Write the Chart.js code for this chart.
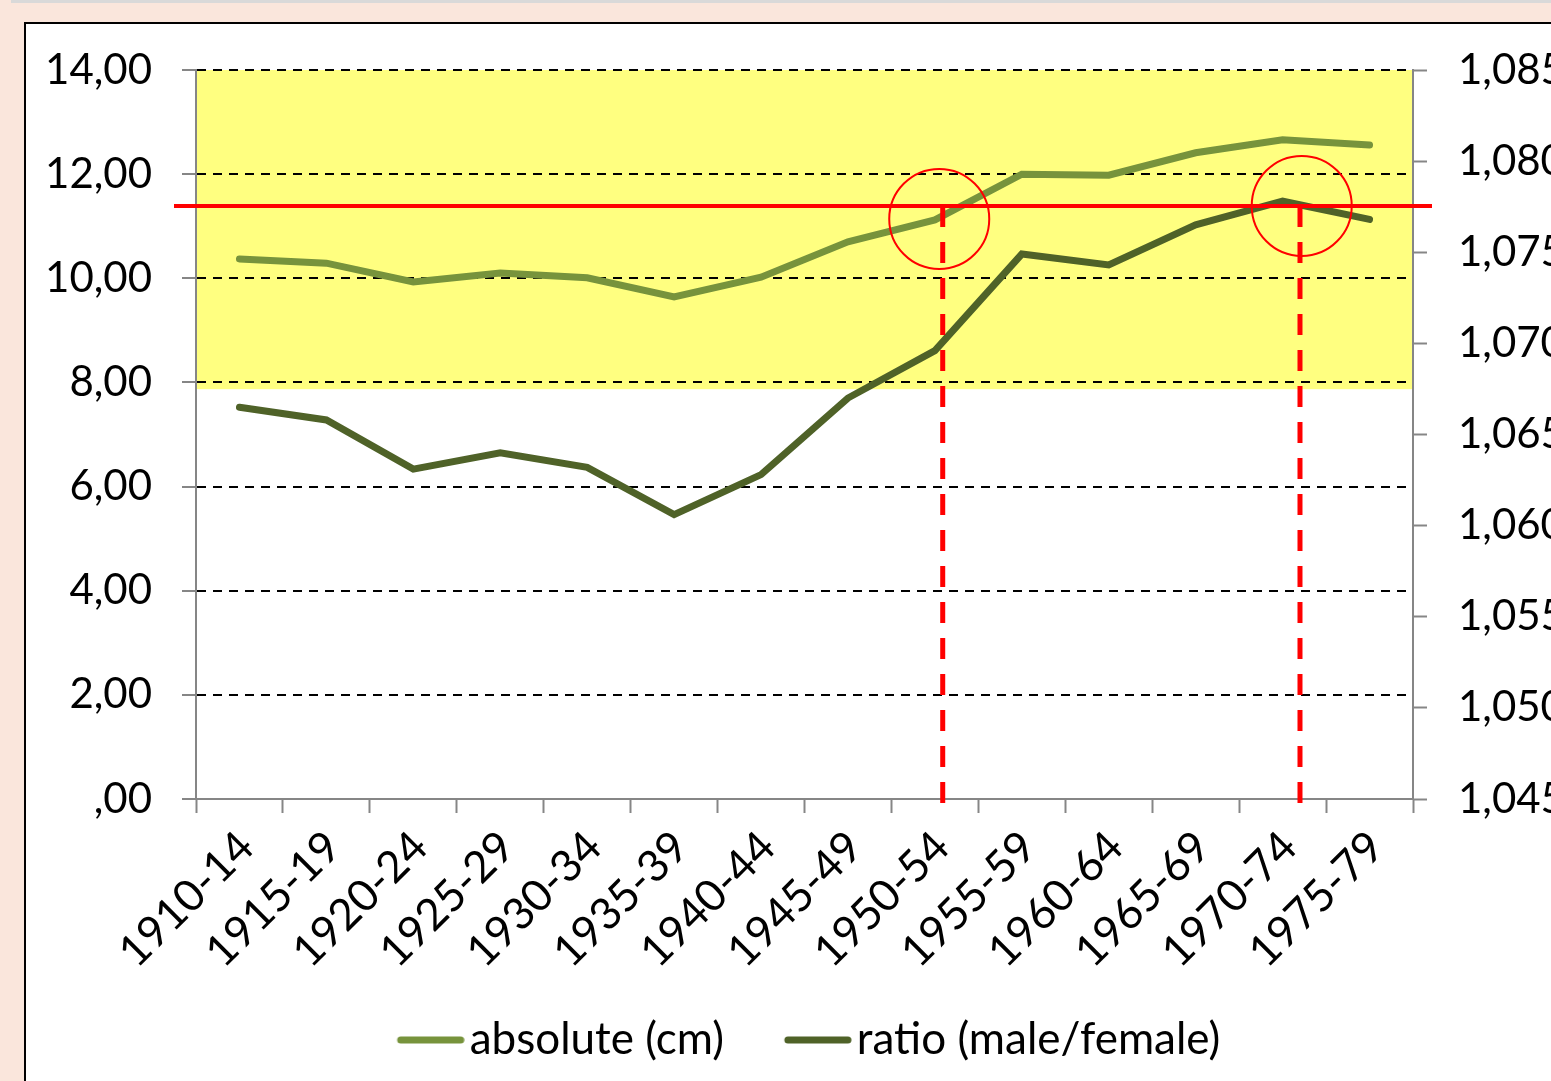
<!DOCTYPE html>
<html>
<head>
<meta charset="utf-8">
<script src="https://cdn.jsdelivr.net/npm/chart.js@4.4.0/dist/chart.umd.min.js"></script>
<style>
  html, body { margin: 0; padding: 0; overflow: hidden; width: 1551px; height: 1081px; background: #FAE6DC; }
  #strip { position: absolute; left: 11px; top: 0; width: 1540px; height: 3px; background: #D9D9D9; }
  #box { position: absolute; left: 24px; top: 22px; width: 1600px; height: 1100px; background: #fff; border: 2px solid #000; }
  canvas { position: absolute; left: 0; top: 0; }
</style>
</head>
<body>
<div id="strip"></div>
<div id="box"><canvas id="gapChart" width="1525" height="1057"></canvas></div>
<script>
// categories
const periods = ['1910-14', '1915-19', '1920-24', '1925-29', '1930-34', '1935-39', '1940-44',
                 '1945-49', '1950-54', '1955-59', '1960-64', '1965-69', '1970-74', '1975-79'];
// series
const absoluteCm = [10.37, 10.29, 9.93, 10.10, 10.01, 9.64, 10.02, 10.70, 11.12, 12.00, 11.98, 12.41, 12.66, 12.56];
const ratioMaleFemale = [1.0665, 1.0658, 1.0631, 1.0640, 1.0632, 1.0606, 1.0628, 1.0670, 1.0696, 1.0749, 1.0743, 1.0765, 1.0778, 1.0768];
// tick labels
const leftTicks = [0, 2, 4, 6, 8, 10, 12, 14];
const rightTicks = [1.045, 1.050, 1.055, 1.060, 1.065, 1.070, 1.075, 1.080, 1.085];

// annotations (in data units)
const bandFrom = 7.87;        // yellow band, left axis
const bandTo = 14;
const redLevel = 11.39;       // red horizontal line, left axis
const markers = [8.09, 12.2]; // red dashed verticals, category index
const circles = [[8.05, 11.14], [12.22, 11.39]];

const fmtLeft = v => v === 0 ? ',00' : v.toFixed(2).replace('.', ',');
const fmtRight = v => v.toFixed(3).replace('.', ',');

Chart.defaults.font.family = 'Lato';
Chart.defaults.color = '#000';

// legend sample: a short line sitting at the right end of the item box
const SAMPLE_W = 91;
function legendLine(color) {
    const c = document.createElement('canvas');
    c.width = SAMPLE_W + 34;
    c.height = 12;
    const g = c.getContext('2d');
    g.strokeStyle = color;
    g.lineWidth = 7;
    g.lineCap = 'round';
    g.beginPath();
    g.moveTo(c.width - 64, 6);
    g.lineTo(c.width - 4, 6);
    g.stroke();
    return c;
}

const overlay = {
    id: 'overlay',
    beforeDraw(chart) {
        const {ctx, chartArea} = chart;
        const y = chart.scales.y;
        ctx.save();
        ctx.fillStyle = '#FFFF80';
        const top = y.getPixelForValue(bandTo);
        const bottom = y.getPixelForValue(bandFrom);
        ctx.fillRect(chartArea.left, top, chartArea.right - chartArea.left, bottom - top);
        ctx.restore();
    },
    afterDatasetsDraw(chart) {
        const {ctx, chartArea} = chart;
        const x = chart.scales.x;
        const y = chart.scales.y;
        const ly = y.getPixelForValue(redLevel);
        ctx.save();
        ctx.strokeStyle = '#FF0000';

        // dashed verticals
        ctx.lineWidth = 5;
        ctx.setLineDash([21, 15]);
        markers.forEach(m => {
            const px = x.getPixelForValue(m);
            ctx.beginPath();
            ctx.moveTo(px, ly);
            ctx.lineTo(px, chartArea.bottom + 9);
            ctx.stroke();
        });

        // horizontal line
        ctx.setLineDash([]);
        ctx.lineWidth = 4;
        ctx.beginPath();
        ctx.moveTo(chartArea.left - 22, ly);
        ctx.lineTo(chartArea.right + 19, ly);
        ctx.stroke();

        // circles
        ctx.lineWidth = 2;
        circles.forEach(c => {
            ctx.beginPath();
            ctx.arc(x.getPixelForValue(c[0]), y.getPixelForValue(c[1]), 50, 0, Math.PI * 2);
            ctx.stroke();
        });
        ctx.restore();
    }
};

const ctx = document.getElementById('gapChart').getContext('2d');
new Chart(ctx, {
    type: 'line',
    data: {
        labels: periods,
        datasets: [{
            label: 'absolute (cm)',
            data: absoluteCm,
            yAxisID: 'y',
            borderColor: '#77933C',
            backgroundColor: '#77933C',
            borderWidth: 7,
            borderCapStyle: 'round',
            pointRadius: 0,
            pointStyle: legendLine('#77933C'),
            tension: 0
        }, {
            label: 'ratio (male/female)',
            data: ratioMaleFemale,
            yAxisID: 'y1',
            borderColor: '#4F6228',
            backgroundColor: '#4F6228',
            borderWidth: 7,
            borderCapStyle: 'round',
            pointRadius: 0,
            pointStyle: legendLine('#4F6228'),
            tension: 0
        }]
    },
    options: {
        responsive: false,
        animation: false,
        devicePixelRatio: 1,
        layout: { padding: { left: 0, top: 46, right: 0, bottom: 9 } },
        plugins: {
            tooltip: { enabled: false },
            legend: {
                position: 'bottom',
                labels: {
                    usePointStyle: true,
                    pointStyleWidth: SAMPLE_W,
                    padding: 20,
                    color: '#000',
                    font: { size: 44 }
                }
            }
        },
        scales: {
            x: {
                type: 'category',
                offset: true,
                afterFit: s => { s.height = 199; s.paddingLeft = 0; s.paddingRight = 0; },
                grid: {
                    offset: true,
                    drawOnChartArea: false,
                    tickColor: '#868686',
                    tickWidth: 2,
                    tickLength: 14
                },
                border: { color: '#868686', width: 2 },
                ticks: {
                    minRotation: 45,
                    maxRotation: 45,
                    autoSkip: false,
                    padding: 8,
                    labelOffset: 7,
                    color: '#000',
                    font: { size: 44 }
                }
            },
            y: {
                position: 'left',
                min: 0,
                max: 14,
                afterFit: s => { s.width = 170; s.paddingTop = 0; s.paddingBottom = 0; },
                afterBuildTicks: s => { s.ticks = leftTicks.map(v => ({ value: v })); },
                grid: {
                    color: c => (c.tick && c.tick.value === 0) ? 'rgba(0,0,0,0)' : '#000',
                    lineWidth: 2,
                    tickColor: '#868686',
                    tickWidth: 2,
                    tickLength: 14
                },
                border: { color: '#868686', width: 2, dash: [9, 7] },
                ticks: {
                    padding: 30,
                    color: '#000',
                    font: { size: 42 },
                    callback: v => fmtLeft(v)
                }
            },
            y1: {
                position: 'right',
                min: 1.045,
                max: 1.085,
                afterFit: s => { s.width = 138; s.paddingTop = 0; s.paddingBottom = 0; },
                afterBuildTicks: s => { s.ticks = rightTicks.map(v => ({ value: v })); },
                grid: {
                    drawOnChartArea: false,
                    tickColor: '#868686',
                    tickWidth: 2,
                    tickLength: 14
                },
                border: { color: '#868686', width: 2 },
                ticks: {
                    padding: 31,
                    color: '#000',
                    font: { size: 42 },
                    callback: v => fmtRight(v)
                }
            }
        }
    },
    plugins: [overlay]
});
</script>
</body>
</html>
